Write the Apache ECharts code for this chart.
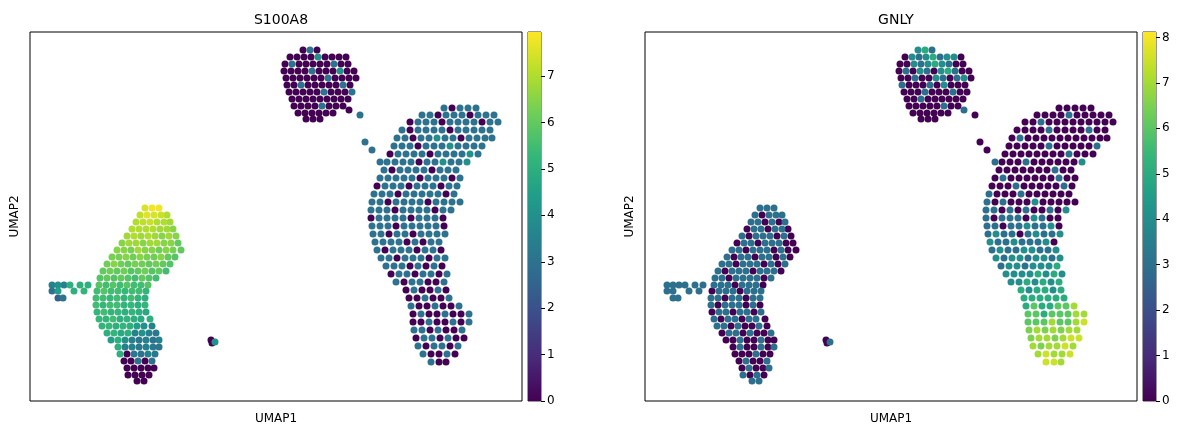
<!DOCTYPE html>
<html><head><meta charset="utf-8">
<script src="https://cdn.jsdelivr.net/npm/echarts@6/dist/echarts.min.js"></script>
<style>html,body{margin:0;padding:0;background:#fff}#c{width:1179px;height:431px}</style>
</head><body><div id="c"></div>
<script>
// Each row: [UMAP2 row, [UMAP1 values], [S100A8 values], [GNLY values]]
const topCluster = [
 [50,[303,310,317],[0,3,0],[4,5,3]],
 [57,[290,297,304,311,318,325,332,339,346],[0,0,0,0,4,0,0,0,0],[0,4,3,4,5,3,4,4,0]],
 [64,[285,292,299,306,313,320,327,334,341,348],[0,3,0,0,0,0,0,3,0,0],[0,0,4,3,4,5,4,3,0,0]],
 [71,[284,291,298,305,312,319,326,333,340,347,354],[0,0,0,0,3,0,0,0,4,0,0],[0,3,0,4,3,0,4,5,3,0,0]],
 [78,[286,293,300,307,314,321,328,335,342,349,356],[0,0,0,0,0,0,3,0,0,0,0],[0,0,3,0,0,4,3,0,3,4,0]],
 [85,[287,294,301,308,315,322,329,336,343,350],[0,0,3,0,0,0,0,0,3,0],[3,0,0,0,3,0,4,0,0,0]],
 [92,[289,296,303,310,317,324,331,338,345,352],[0,0,0,0,0,3,0,0,0,3],[0,0,0,3,0,0,0,3,0,0]],
 [99,[292,299,306,313,320,327,334,341,348],[0,0,0,0,0,0,0,0,0],[0,0,3,0,0,0,0,0,0]],
 [106,[294,301,308,315,322,329,336,343],[0,0,0,0,3,0,0,0],[0,0,0,0,0,3,0,0]],
 [113,[298,305,312,319,326,333],[0,0,0,0,0,0],[0,0,0,0,0,0]],
 [119,[306,313,320],[0,0,0],[0,0,0]]
];
const strayCells = [
 [110,[349],[0],[3]],[115,[360],[3],[0]],[142,[365],[3],[0]],[150,[372],[3],[0]],[162,[380],[3],[3]]
];
const bigCluster = [
 [108,[444,452,460,468,476],[3,0,3,3,3],[0,0,0,0,0]],
 [115,[422,430,438,446,454,462,470,478,486,494],[3,3,0,3,3,3,0,3,3,3],[0,0,0,0,3,0,0,0,0,0]],
 [122,[410,418,426,434,442,450,458,466,474,482,490,498],[0,3,3,3,0,3,3,3,3,0,3,3],[0,0,3,0,0,0,0,0,0,0,0,0]],
 [130,[402,410,418,426,434,442,450,458,466,474,482,490],[3,0,3,3,3,3,0,3,3,3,3,3],[0,0,0,0,3,0,0,0,0,3,0,0]],
 [138,[397,405,413,421,429,437,445,453,461,469,477,485,492],[3,3,0,3,3,4,3,3,0,3,3,3,3],[0,3,0,0,0,0,0,0,0,0,0,0,0]],
 [146,[394,402,410,418,426,434,442,450,458,466,474,482],[3,3,3,0,3,3,3,4,3,3,3,3],[0,0,0,0,0,3,0,0,0,0,0,3]],
 [154,[390,398,406,414,422,430,438,446,454,462,470,478],[0,3,3,3,3,0,3,3,3,3,4,3],[0,0,0,0,0,0,0,0,3,0,0,0]],
 [162,[387,395,403,411,419,427,435,443,451,459,467],[3,3,3,3,0,3,3,4,3,3,4],[0,0,0,3,0,0,0,0,0,0,4]],
 [170,[384,392,400,408,416,424,432,440,448,456],[3,0,3,3,3,3,0,3,3,3],[0,0,0,0,0,0,0,3,0,0]],
 [178,[380,388,396,404,412,420,428,436,444,452,460],[3,3,3,3,3,0,3,3,3,0,3],[0,3,0,0,0,0,0,0,3,0,0]],
 [186,[377,385,393,401,409,417,425,433,441,449,457],[0,3,3,3,0,3,3,3,0,3,3],[0,0,0,3,0,0,0,0,0,3,0]],
 [194,[374,382,390,398,406,414,422,430,438,446,454],[3,3,3,0,3,3,3,3,3,0,3],[3,0,0,0,3,0,0,0,0,0,0]],
 [202,[372,380,388,396,404,412,420,428,436,444,452,460],[3,3,0,3,3,3,3,0,3,3,3,3],[3,0,3,0,0,0,4,0,0,0,0,0]],
 [210,[371,379,387,395,403,411,419,427,435,443,451],[3,3,3,0,3,3,3,3,0,3,3],[3,3,0,3,0,3,0,0,3,0,4]],
 [218,[371,379,387,395,403,411,419,427,435,443],[0,3,3,3,3,0,3,3,3,0],[3,0,3,3,3,0,4,3,0,0]],
 [226,[372,380,388,396,404,412,420,428,436,444],[3,3,3,0,3,3,3,3,3,0],[3,3,0,3,3,4,3,3,4,0]],
 [234,[373,381,389,397,405,413,421,429,437,445],[3,3,0,3,3,0,3,3,3,3],[3,4,3,3,0,3,4,3,3,4]],
 [242,[375,383,391,399,407,415,423,431,439],[3,3,3,3,0,3,0,3,3],[4,3,3,4,3,3,3,4,0]],
 [250,[377,385,393,401,409,417,425,433,441],[3,0,3,3,3,0,3,3,0],[3,4,3,3,4,4,3,3,4]],
 [258,[381,389,397,405,413,421,429,437,445],[3,3,0,3,3,3,0,3,3],[4,3,4,4,3,4,4,3,4]],
 [266,[386,394,402,410,418,426,434,442],[3,3,3,0,3,0,3,0],[3,4,4,3,4,4,4,5]],
 [274,[391,399,407,415,423,431,439,447],[0,3,3,0,3,3,0,3],[4,4,4,4,5,4,5,4]],
 [282,[396,404,412,420,428,436,444],[3,0,3,3,0,0,3],[4,4,5,4,5,4,5]],
 [290,[406,414,422,430,438,446],[0,3,0,0,3,0],[5,4,5,5,4,5]],
 [298,[409,417,425,433,441,449],[0,0,3,0,0,3],[5,5,5,5,5,5]],
 [306,[411,419,427,435,443,451,459],[3,0,0,3,0,0,3],[5,6,5,5,6,6,7]],
 [314,[413,421,429,437,445,453,461,469],[0,3,0,0,3,0,0,3],[6,6,5,6,6,6,7,7]],
 [322,[413,421,429,437,445,453,461,469],[0,0,3,0,0,3,0,3],[6,6,6,7,6,6,7,7.5]],
 [330,[414,422,430,438,446,454,462],[3,3,0,3,0,0,3],[6.5,7,6.5,7,6.5,7,7]],
 [338,[416,424,432,440,448,456,464],[0,3,3,0,3,0,0],[6.5,7,7,6.5,7,7.5,7.5]],
 [346,[418,426,434,442,450,458],[3,0,3,3,0,3],[7,6.5,7,7,7.5,7]],
 [354,[423,431,439,447,455],[3,0,0,3,0],[7,7.5,7,7,7.5]],
 [362,[431,439,446],[3,0,0],[7.5,7.5,7]]
];
const leftCluster = [
 [208,[145,152,159],[7.5,7.8,7.8],[3,3,3]],
 [215,[140,147,154,161,167],[7.2,7.6,7.5,7.3,7],[3,0,3,3,3]],
 [222,[136,143,150,157,164,170],[7,7.2,7.3,7,7,6.8],[3,3,0,3,0,3]],
 [229,[132,139,146,153,160,167,173],[7,7,7,7,6.8,6.8,6.5],[0,3,3,0,3,3,0]],
 [236,[127,134,141,148,155,162,169,176],[6.8,7,6.8,7,6.8,6.5,6.8,6.5],[3,0,3,3,3,0,3,0]],
 [243,[122,129,136,143,150,157,164,171,178],[6.5,6.8,6.8,6.5,6.8,6.8,6.5,6.5,6],[0,3,3,0,3,3,3,0,0]],
 [250,[117,124,131,138,145,152,159,166,173,181],[6.5,6.5,6.3,6.8,6.5,6.5,6.2,6.5,6.3,6],[3,3,0,3,3,3,0,3,0,0]],
 [257,[112,119,126,133,140,147,154,161,168,175],[6.3,6.3,6.5,6.2,6.5,6.3,6.2,6.5,6,5.8],[3,0,3,3,0,3,3,0,3,0]],
 [264,[107,114,121,128,135,142,149,156,163,170],[6.2,6.5,6.2,6,6.3,6.2,6,6.2,6,5.8],[3,3,0,3,3,3,0,3,0,3]],
 [271,[103,110,117,124,131,138,145,152,159,166],[6,6.2,6,6.2,5.8,6,6.2,5.8,6,5.5],[3,0,3,3,3,0,3,3,3,0]],
 [278,[100,107,114,121,128,135,142,149,156],[5.8,6,5.8,6,5.8,5.5,6,5.8,5.5],[3,3,0,3,3,3,3,0,3]],
 [285,[52,58,64,70,80,88,99,106,113,120,127,134,141,148],[3.5,4,3.5,5,5,5,5.8,5.5,5.8,5.5,5.8,5.5,5.5,5.8],[3,3,3,3,3,3,3,3,3,0,3,3,3,0]],
 [291,[52,58,74,84,97,104,111,118,125,132,139,146],[3,4.5,5,5.2,5.5,5.8,5.5,5.5,5.3,5.5,5.5,5.2],[3,3,3,3,0,3,3,3,0,3,3,3]],
 [298,[58,63,96,103,110,117,124,131,138,145],[2.5,3,5.5,5.5,5.3,5.5,5.2,5.5,5.2,5],[3,3,3,3,0,3,3,0,3,3]],
 [305,[96,103,110,117,124,131,138,145],[5.5,5.3,5.5,5.5,5.2,5.3,5,5.2],[3,0,3,3,3,0,3,0]],
 [312,[97,104,111,118,125,132,139,146],[5.2,5.5,5.2,5.3,5,5.2,5,4.8],[0,3,3,0,3,3,0,3]],
 [319,[99,106,113,120,127,134,141,150],[5.3,5.2,5.5,5,5.2,5,4.8,5],[3,0,3,3,0,3,3,0]],
 [326,[102,109,116,123,130,137,144,152],[5.2,5.3,5,5.2,5,4.5,4,3.5],[3,3,0,3,0,0,3,0]],
 [333,[107,114,121,128,135,142,149,156],[5,5.2,4.8,5,3.5,4,3.5,3.2],[0,3,3,0,3,0,0,3]],
 [340,[111,118,125,132,139,146,153,159],[4.5,5,4,3.5,3.2,3.5,3,3.5],[0,0,3,0,0,3,0,0]],
 [347,[118,125,132,139,146,153,159],[5,3.5,3.5,3.2,3.5,3.2,3],[0,3,0,0,3,0,3]],
 [354,[120,127,134,141,148,155],[5,0,3.2,3,3.5,3.2],[0,0,0,3,0,0]],
 [361,[124,131,138,145,152],[0,0,3,0,3],[0,3,0,0,3]],
 [368,[127,134,141,148,154],[0,0,0,0,0],[0,3,0,0,3]],
 [375,[128,135,142,149],[0,0,0,0],[3,0,3,0]],
 [381,[137,144],[0,0],[3,3]]
];
const tinyCluster = [
 [340,[211],[0],[0]],[342,[215],[4],[3]],[343,[212],[0],[0]]
];
const titles = ['S100A8','GNLY'];
const maxVals = [7.95, 8.12];
const cbTicks = [[0,1,2,3,4,5,6,7],[0,1,2,3,4,5,6,7,8]];

const viridis = ['#440154','#482878','#3e4989','#31688e','#26828e','#1f9e89','#35b779','#6ece58','#b5de2b','#fde725'];

function points(k){
  const out=[];
  [topCluster,strayCells,bigCluster,leftCluster,tinyCluster].forEach(cl=>cl.forEach(r=>{
    r[1].forEach((x,i)=>out.push([x,r[0],r[2+k][i]]));
  }));
  out.sort((a,b)=>a[2]-b[2]);
  return out;
}

const font='DejaVu Sans';
const grids=[], xAxes=[], yAxes=[], series=[], vms=[], titleOpts=[];
[0,1].forEach(k=>{
  const off=k*615;
  grids.push({left:30+off,top:32,width:492,height:369,show:true,borderColor:'#000',borderWidth:1});
  grids.push({left:528+off,top:32,width:13,height:369,show:true,borderColor:'#000',borderWidth:0.8});
  xAxes.push({gridIndex:2*k,type:'value',min:30,max:522,name:'UMAP1',nameLocation:'middle',nameGap:12,
    nameTextStyle:{fontFamily:font,fontSize:12,color:'#000'},axisLine:{show:false},axisTick:{show:false},axisLabel:{show:false},splitLine:{show:false}});
  yAxes.push({gridIndex:2*k,type:'value',inverse:true,min:32,max:401,name:'UMAP2',nameLocation:'middle',nameGap:9,nameRotate:90,
    nameTextStyle:{fontFamily:font,fontSize:12,color:'#000'},axisLine:{show:false},axisTick:{show:false},axisLabel:{show:false},splitLine:{show:false}});
  xAxes.push({gridIndex:2*k+1,type:'category',data:['c'],show:false});
  yAxes.push({gridIndex:2*k+1,type:'value',min:0,max:maxVals[k],interval:1,position:'right',
    axisLine:{show:false},splitLine:{show:false},
    axisTick:{show:true,length:4,lineStyle:{color:'#000'}},
    axisLabel:{fontFamily:font,fontSize:12,color:'#000',margin:6,showMaxLabel:false,
      formatter:v=>cbTicks[k].includes(v)?String(v):''}});
  series.push({type:'scatter',xAxisIndex:2*k,yAxisIndex:2*k,data:points(k),symbolSize:7,itemStyle:{opacity:1},silent:true});
  series.push({type:'bar',xAxisIndex:2*k+1,yAxisIndex:2*k+1,data:[maxVals[k]],barWidth:'100%',silent:true,
    itemStyle:{color:new echarts.graphic.LinearGradient(0,0,0,1,viridis.slice().reverse().map((c,i)=>({offset:i/9,color:c})))}});
  vms.push({type:'continuous',show:false,seriesIndex:2*k,dimension:2,min:0,max:maxVals[k],inRange:{color:viridis}});
  titleOpts.push({text:titles[k],left:276+off,top:8,textAlign:'center',textStyle:{fontFamily:font,fontSize:14,fontWeight:'normal',color:'#000'}});
});

const chart=echarts.init(document.getElementById('c'),null,{renderer:'canvas'});
chart.setOption({animation:false,backgroundColor:'#fff',title:titleOpts,grid:grids,xAxis:xAxes,yAxis:yAxes,visualMap:vms,series:series});
</script></body></html>
